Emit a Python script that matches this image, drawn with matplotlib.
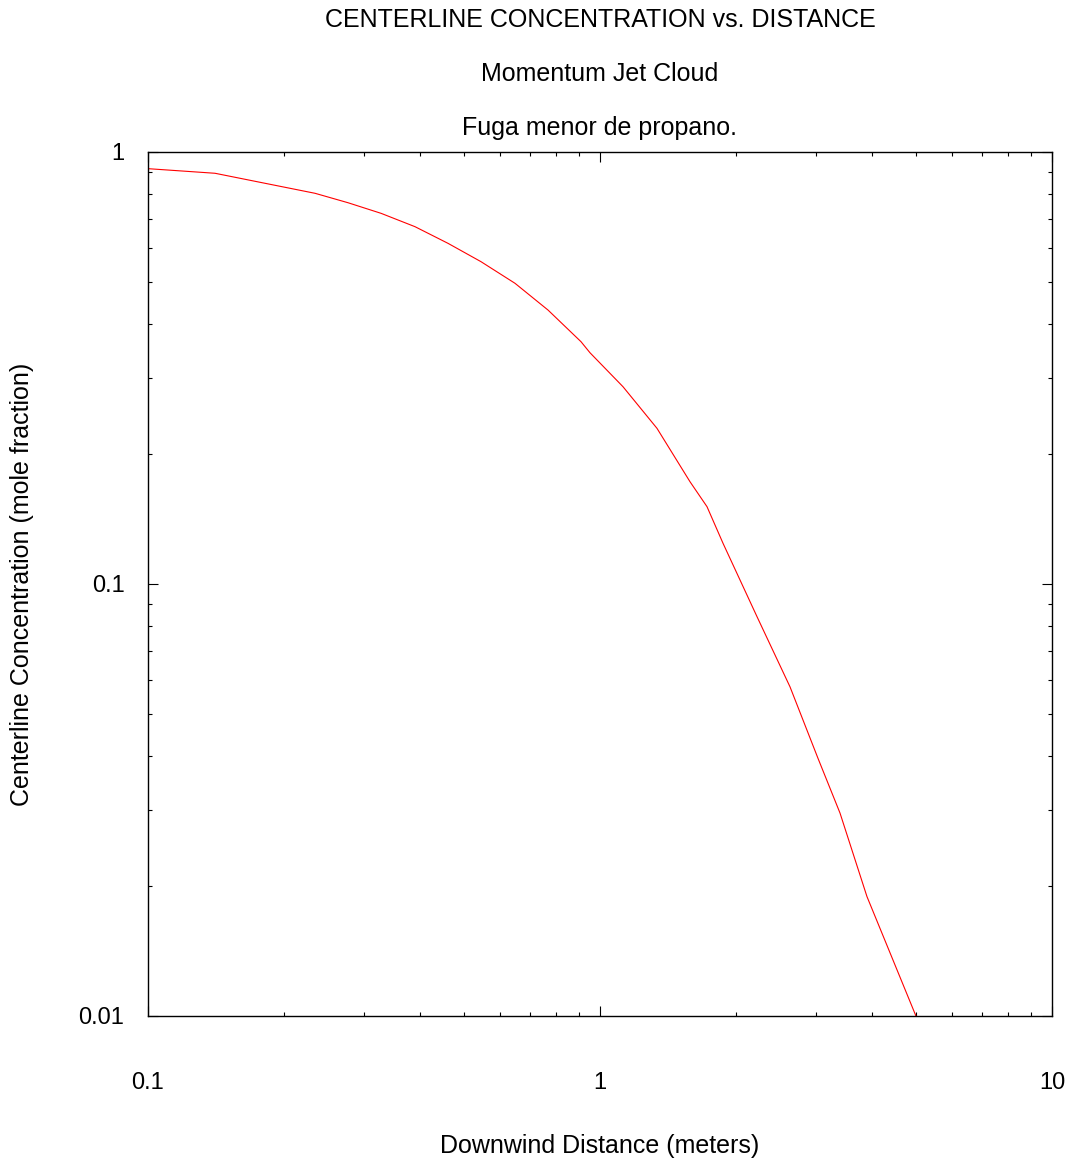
import numpy as np
import matplotlib
matplotlib.use("Agg")
import matplotlib.pyplot as plt
from matplotlib.ticker import LogLocator, FixedLocator, NullFormatter

plt.rcParams['font.family'] = ['Liberation Sans', 'DejaVu Sans']

# centerline concentration along the jet axis
distance_m = [0.1, 0.1407, 0.1815, 0.2342, 0.2770, 0.3279, 0.3897, 0.4610, 0.5453,
              0.6485, 0.7673, 0.9078, 0.9503, 1.1243, 1.3367, 1.5816, 1.7248, 1.8716,
              2.2254, 2.6326, 3.0355, 3.396, 3.896, 5.0]
concentration = [0.915, 0.8928, 0.8464, 0.8024, 0.7631, 0.7211, 0.6716, 0.6146, 0.5574,
                 0.4967, 0.4307, 0.3638, 0.3430, 0.2862, 0.2293, 0.1725, 0.1510, 0.1242,
                 0.0840, 0.0578, 0.0395, 0.0295, 0.0189, 0.0100]

titles = ["CENTERLINE CONCENTRATION vs. DISTANCE", "Momentum Jet Cloud", "Fuga menor de propano."]
x_ticks = [0.1, 1, 10]
x_ticklabels = ["0.1", "1", "10"]
y_ticks = [0.01, 0.1, 1]
y_ticklabels = ["0.01", "0.1", "1"]

TICK_FS = 17
TEXT_FS = 18

fig = plt.figure(figsize=(10.73, 11.66), dpi=100)
ax = fig.add_axes([148 / 1073, 1 - 1016 / 1166, 904 / 1073, 864 / 1166])

ax.plot(distance_m, concentration, color="#ff0000", lw=0.8)

ax.set_xscale("log")
ax.set_yscale("log")
ax.set_xlim(0.1, 10)
ax.set_ylim(0.01, 1)

ax.xaxis.set_major_locator(FixedLocator(x_ticks))
ax.set_xticklabels(x_ticklabels)
ax.yaxis.set_major_locator(FixedLocator(y_ticks))
ax.set_yticklabels(y_ticklabels)
for axis in (ax.xaxis, ax.yaxis):
    axis.set_minor_locator(LogLocator(base=10, subs=np.arange(2, 10)))
    axis.set_minor_formatter(NullFormatter())

ax.tick_params(which="both", direction="in", top=True, right=True, color="black", width=0.8)
ax.tick_params(which="major", length=7, labelsize=TICK_FS)
ax.tick_params(which="minor", length=3.2)
ax.tick_params(axis="x", which="major", pad=40)
ax.tick_params(axis="y", which="major", pad=17)

for sp in ax.spines.values():
    sp.set_linewidth(1.0)
    sp.set_color("black")

ax.set_xlabel("Downwind Distance (meters)", fontsize=TEXT_FS, va="center")
ax.xaxis.set_label_coords(0.5, (1016 - 1146) / 864)
ax.set_ylabel("Centerline Concentration (mole fraction)", fontsize=TEXT_FS, va="center")
ax.yaxis.set_label_coords((22 - 148) / 904, 0.5)

for i, t in enumerate(titles):
    fig.text(600 / 1073, 1 - (20 + i * 54) / 1166, t, ha="center", va="center", fontsize=TEXT_FS)

fig.savefig("out.png", dpi=100, facecolor="white")
